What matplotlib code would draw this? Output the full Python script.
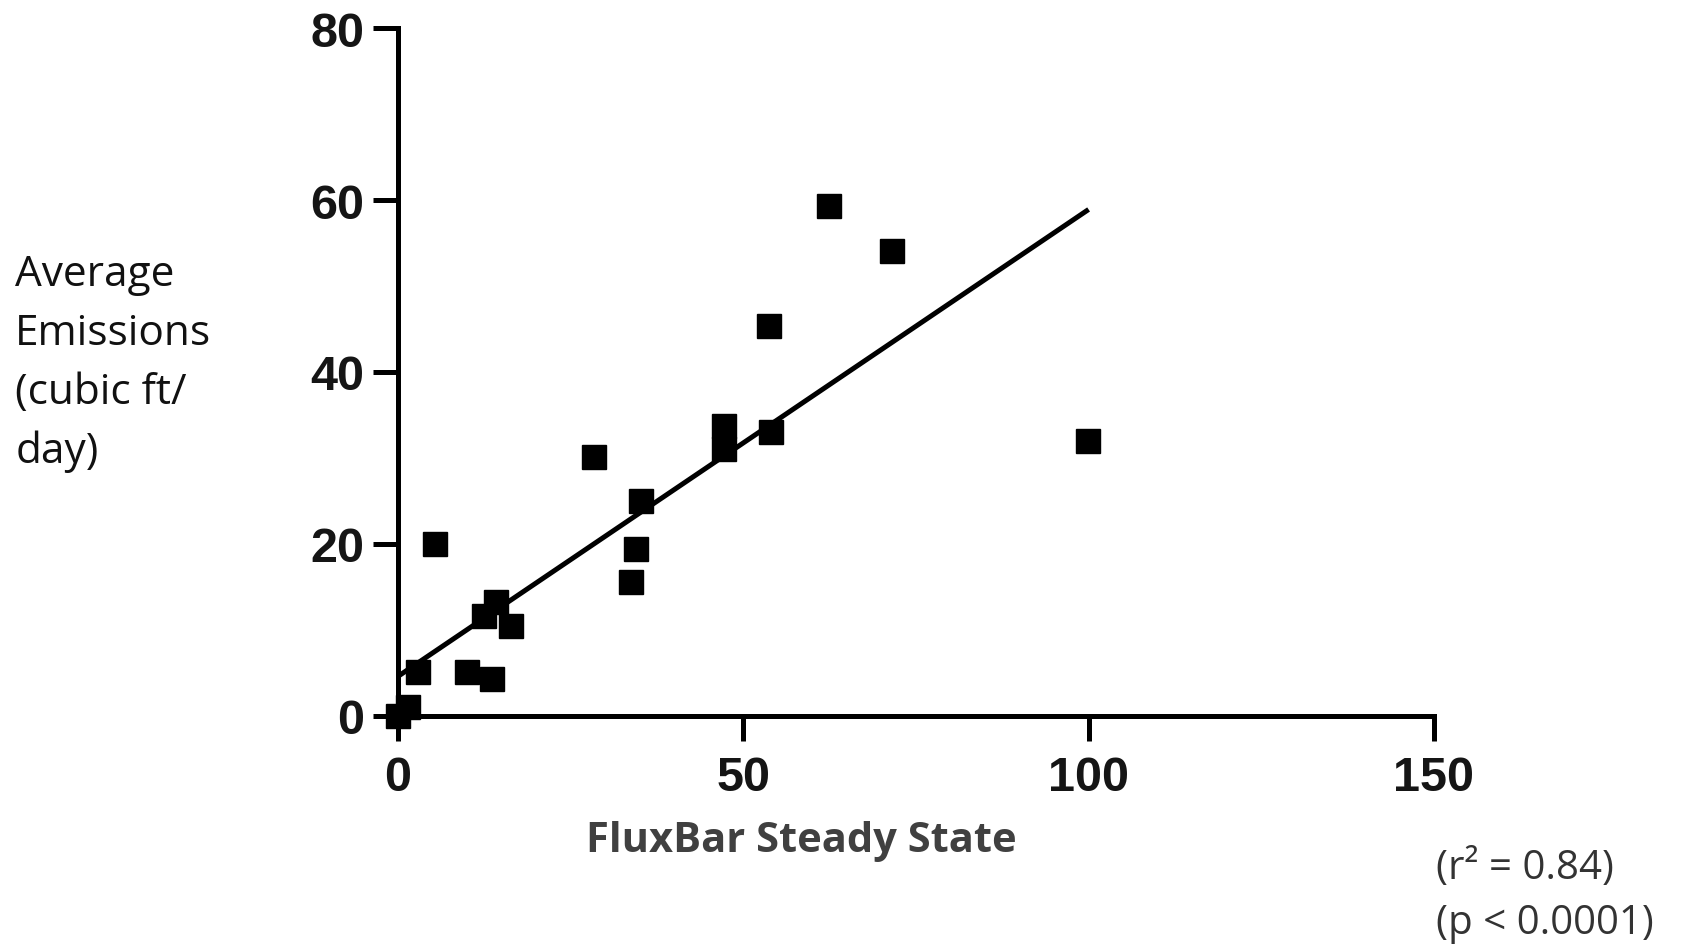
import matplotlib.pyplot as plt
import numpy as np

# values
flux = [0, 1.5, 2.9, 5.3, 10.0, 13.6, 12.4, 14.2, 16.4, 28.4, 33.7, 34.4, 35.2,
        47.2, 47.2, 54.0, 53.7, 62.4, 71.6, 99.9]
emissions = [0, 1.0, 5.1, 20.0, 5.1, 4.3, 11.6, 13.3, 10.5, 30.1, 15.6, 19.4, 25.0,
             33.7, 31.0, 33.0, 45.3, 59.3, 54.1, 32.0]
fit_intercept = 4.6
fit_slope = 0.543
fit_range = [0, 100]

x_ticks = [0, 50, 100, 150]
y_ticks = [0, 20, 40, 60, 80]

fig = plt.figure(figsize=(16.84, 9.45), dpi=100)
ax = fig.add_axes([0.2363, 0.2413, 0.6152, 0.728])

ax.plot(flux, emissions, 's', color='black', markersize=17, clip_on=False, zorder=3)
fit_x = np.array(fit_range)
ax.plot(fit_x, fit_intercept + fit_slope * fit_x, color='black', linewidth=3.6,
        solid_capstyle='butt', clip_on=False)

ax.set_xlim(0, 150)
ax.set_ylim(0, 80)
ax.set_xticks(x_ticks)
ax.set_yticks(y_ticks)
for side in ['top', 'right']:
    ax.spines[side].set_visible(False)
for side in ['left', 'bottom']:
    ax.spines[side].set_linewidth(3.6)
ax.tick_params(length=18, width=3.6, direction='out', pad=6)
ax.tick_params(axis='x', pad=10)
for lab in ax.get_xticklabels():
    lab.set_fontfamily('Liberation Sans')
    lab.set_fontweight('bold')
    lab.set_fontsize(35)
    lab.set_color('#151515')
for lab in ax.get_yticklabels():
    lab.set_fontfamily('Liberation Sans')
    lab.set_fontweight('bold')
    lab.set_fontsize(35)
    lab.set_color('#151515')

fig.text(0.476, 0.11, 'FluxBar Steady State', fontsize=30, fontweight='bold',
         family='Open Sans', color='#404040', ha='center', va='center')
fig.text(0.009, 0.615, 'Average\nEmissions\n(cubic ft/\nday)', fontsize=30.5,
         family='Open Sans', color='#111111', ha='left', va='center', linespacing=1.52)
fig.text(0.853, 0.052, '(r² = 0.84)\n(p < 0.0001)', fontsize=29,
         family='Open Sans', color='#333333', ha='left', va='center', linespacing=1.47)

fig.savefig('out.png', dpi=100)
